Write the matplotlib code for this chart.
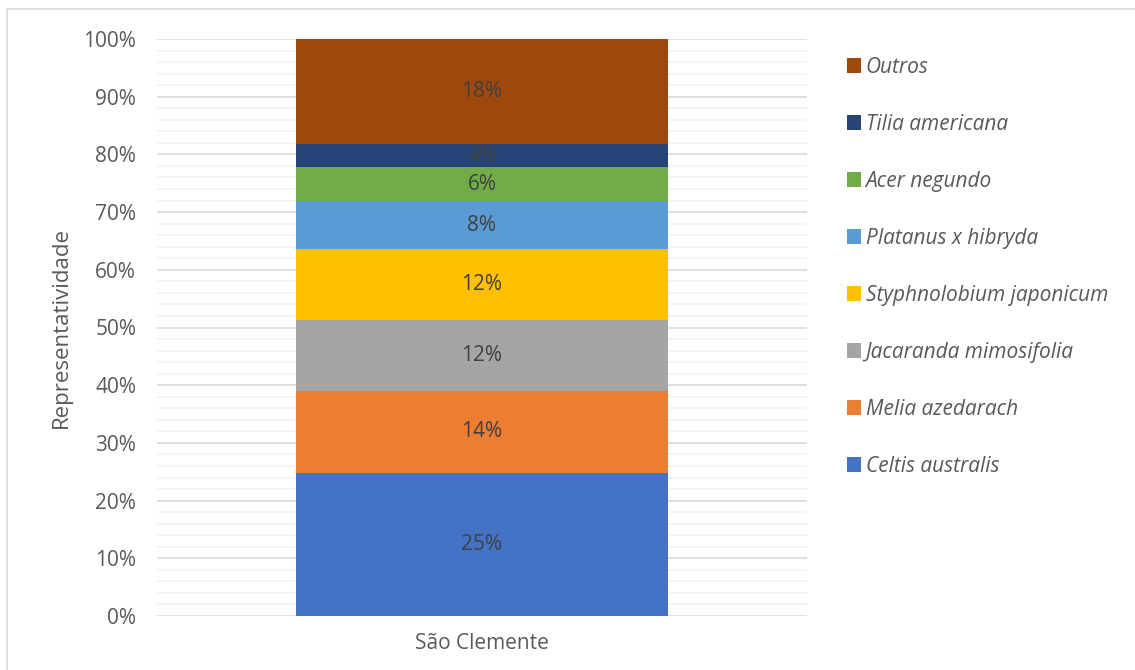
import matplotlib.pyplot as plt
from matplotlib.patches import Rectangle, Patch
from matplotlib.ticker import MultipleLocator, PercentFormatter

plt.rcParams['font.family'] = ['Open Sans', 'DejaVu Sans']

# Data
category = ['São Clemente']
species = ['Celtis australis', 'Melia azedarach', 'Jacaranda mimosifolia',
           'Styphnolobium japonicum', 'Platanus x hibryda', 'Acer negundo',
           'Tilia americana', 'Outros']
shares = [24.8, 14.2, 12.3, 12.3, 8.3, 5.9, 4.0, 18.2]
colors = ['#4472C4', '#ED7D31', '#A5A5A5', '#FFC000', '#5B9BD5', '#70AD47',
          '#264478', '#9E480E']

fig = plt.figure(figsize=(11.35, 6.7), dpi=100)
ax = fig.add_axes([157 / 1135, 1 - 616 / 670, 650 / 1135, 577 / 670])

# chart border
fig.patches.append(Rectangle((7 / 1135, -0.01), 1.0, 1 - 9 / 670 + 0.01,
                             transform=fig.transFigure, fill=False,
                             edgecolor='#D9D9D9', linewidth=1.2))

total = sum(shares)
bottom = 0
for name, val, col in zip(species, shares, colors):
    pct = val / total * 100
    ax.bar(0, pct, bottom=bottom, width=0.571, color=col, zorder=3)
    ax.text(0, bottom + pct / 2, '%d%%' % round(pct), ha='center', va='center',
            fontsize=15, color='#404040', zorder=4)
    bottom += pct

ax.set_xlim(-0.5, 0.5)
ax.set_ylim(0, 100)
ax.set_xticks([0])
ax.set_xticklabels(category)
ax.yaxis.set_major_locator(MultipleLocator(10))
ax.yaxis.set_minor_locator(MultipleLocator(2))
ax.yaxis.set_major_formatter(PercentFormatter(decimals=0))
ax.grid(axis='y', which='major', color='#D9D9D9', linewidth=1.2, zorder=0)
ax.grid(axis='y', which='minor', color='#F2F2F2', linewidth=1.2, zorder=0)
ax.tick_params(axis='both', which='both', length=0, labelsize=15,
               labelcolor='#595959')
ax.tick_params(axis='y', pad=15)
ax.tick_params(axis='x', pad=12)
for s in ax.spines.values():
    s.set_visible(False)
ax.set_ylabel('Representatividade', fontsize=16, color='#595959', labelpad=8)

handles = [Patch(facecolor=c) for c in colors[::-1]]
leg = fig.legend(handles, species[::-1], loc='upper left',
                 bbox_to_anchor=(828 / 1135, 1 - 38 / 670), frameon=False,
                 prop={'style': 'italic', 'size': 15}, labelcolor='#595959',
                 handlelength=0.7, handleheight=0.7, handletextpad=0.2,
                 labelspacing=1.73)

fig.savefig('out.png', dpi=100)
